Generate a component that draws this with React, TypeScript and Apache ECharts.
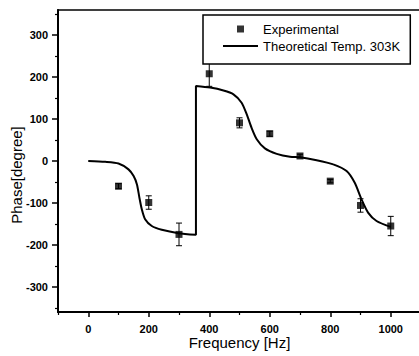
import React, { useEffect, useRef } from "react";
import * as echarts from "echarts";

const expX = [100, 200, 300, 400, 500, 600, 700, 800, 900, 1000];
const expY = [-60, -99, -175, 208, 91, 65, 12, -48, -106, -155];
const expErr = [6, 16, 27, 30, 12, 6, 4, 4, 16, 23];

const theoX = [0, 56, 100, 133, 150, 161, 169, 177, 188, 210, 243, 298, 356, 356, 403, 447, 480, 507, 524, 540, 557, 584, 623, 667, 700, 755, 810, 854, 881, 903, 925, 953, 1000];
const theoY = [0, -2, -6, -20, -36, -56, -87, -115, -139, -155, -164, -172, -176, 179, 175, 168, 159, 139, 111, 79, 52, 30, 17, 10, 9, 2, -8, -24, -52, -91, -123, -143, -157];

const xMajor = [0, 200, 400, 600, 800, 1000];
const xMinor = [-100, 100, 300, 500, 700, 900, 1100];
const yMajor = [-300, -200, -100, 0, 100, 200, 300];
const yMinor = [-350, -250, -150, -50, 50, 150, 250, 350];

const FONT = "'Liberation Sans', Arial, sans-serif";

export default function App() {
  const ref = useRef<HTMLDivElement>(null);
  useEffect(() => {
    if (!ref.current) return;
    const chart = echarts.init(ref.current, undefined, { renderer: "svg" });
    const axisLineStyle = { color: "#000", width: 2 };
    const fmt = (v: number) => String(v);
    chart.setOption({
      animation: false,
      backgroundColor: "#fff",
      grid: {
        left: 58,
        right: -2,
        top: 10,
        bottom: 44,
        show: true,
        borderColor: "#000",
        borderWidth: 1.5,
        containLabel: false,
        outerBoundsMode: "none",
      },
      legend: {
        z: 20,
        orient: "vertical",
        left: 203,
        top: 15,
        padding: [7, 10, 11, 20],
        itemGap: 3,
        itemWidth: 35,
        itemHeight: 14,
        selectedMode: false,
        backgroundColor: "#fff",
        borderColor: "#000",
        borderWidth: 1.5,
        textStyle: { fontFamily: FONT, fontSize: 13, color: "#000" },
        data: [
          { name: "Experimental", icon: "path://M0,0M35,14M14,3.5h7v7h-7z", itemStyle: { color: "#000" } },
          { name: "Theoretical Temp. 303K", icon: "path://M0,0M35,14M0,6h35v2h-35z", itemStyle: { color: "#000" } },
        ],
      },
      xAxis: [
        {
          type: "value",
          min: -100,
          max: 1100,
          position: "bottom",
          name: "Frequency [Hz]",
          nameLocation: "middle",
          nameGap: 23,
          nameMoveOverlap: false,
          nameTextStyle: { fontFamily: FONT, fontSize: 15, color: "#000" },
          axisLine: { show: true, onZero: false, lineStyle: axisLineStyle },
          axisTick: { show: true, length: 5, customValues: xMajor, lineStyle: { color: "#000", width: 1.5 } },
          axisLabel: { customValues: xMajor, formatter: fmt, margin: 11, fontFamily: FONT, fontSize: 11, fontWeight: "bold", color: "#000" },
          splitLine: { show: false },
        },
        {
          type: "value",
          min: -100,
          max: 1100,
          position: "bottom",
          axisLine: { show: false, onZero: false },
          axisTick: { show: true, length: 3, customValues: xMinor, lineStyle: { color: "#000", width: 1.2 } },
          axisLabel: { show: false },
          splitLine: { show: false },
        },
      ],
      yAxis: [
        {
          type: "value",
          min: -360,
          max: 360,
          position: "left",
          name: "Phase[degree]",
          nameLocation: "middle",
          nameGap: 34,
          nameMoveOverlap: false,
          nameTextStyle: { fontFamily: FONT, fontSize: 15, color: "#000", padding: [0, 28, 0, 0] },
          axisLine: { show: true, onZero: false, lineStyle: axisLineStyle },
          axisTick: { show: true, length: 6, customValues: yMajor, lineStyle: { color: "#000", width: 1.5 } },
          axisLabel: { customValues: yMajor, formatter: fmt, margin: 10, fontFamily: FONT, fontSize: 11, fontWeight: "bold", color: "#000" },
          splitLine: { show: false },
        },
        {
          type: "value",
          min: -360,
          max: 360,
          position: "left",
          axisLine: { show: false, onZero: false },
          axisTick: { show: true, length: 3, customValues: yMinor, lineStyle: { color: "#000", width: 1.2 } },
          axisLabel: { show: false },
          splitLine: { show: false },
        },
      ],
      series: [
        {
          name: "Theoretical Temp. 303K",
          type: "line",
          xAxisIndex: 0,
          yAxisIndex: 0,
          data: theoX.map((x, i) => [x, theoY[i]]),
          showSymbol: false,
          symbol: "none",
          smooth: 0.25,
          lineStyle: { color: "#000", width: 2 },
          itemStyle: { color: "#000" },
          z: 3,
        },
        {
          name: "errorbars",
          type: "custom",
          xAxisIndex: 0,
          yAxisIndex: 0,
          data: expX.map((x, i) => [x, expY[i], expErr[i]]),
          renderItem: (params: any, api: any) => {
            const x = api.value(0);
            const y = api.value(1);
            const e = api.value(2);
            const top = api.coord([x, y + e]);
            const bot = api.coord([x, y - e]);
            const cap = 3;
            const st = { stroke: "#000", lineWidth: 1 };
            return {
              type: "group",
              children: [
                { type: "line", shape: { x1: top[0], y1: top[1], x2: bot[0], y2: bot[1] }, style: st },
                { type: "line", shape: { x1: top[0] - cap, y1: top[1], x2: top[0] + cap, y2: top[1] }, style: st },
                { type: "line", shape: { x1: bot[0] - cap, y1: bot[1], x2: bot[0] + cap, y2: bot[1] }, style: st },
              ],
            };
          },
          z: 4,
        },
        {
          name: "Experimental",
          type: "scatter",
          xAxisIndex: 0,
          yAxisIndex: 0,
          data: expX.map((x, i) => [x, expY[i]]),
          symbol: "rect",
          symbolSize: 7,
          itemStyle: { color: "#000" },
          z: 5,
        },
      ],
    });
    return () => chart.dispose();
  }, []);
  return (
    <div
      ref={ref}
      style={{ position: "fixed", left: 0, top: 0, width: 419, height: 356 }}
    />
  );
}
